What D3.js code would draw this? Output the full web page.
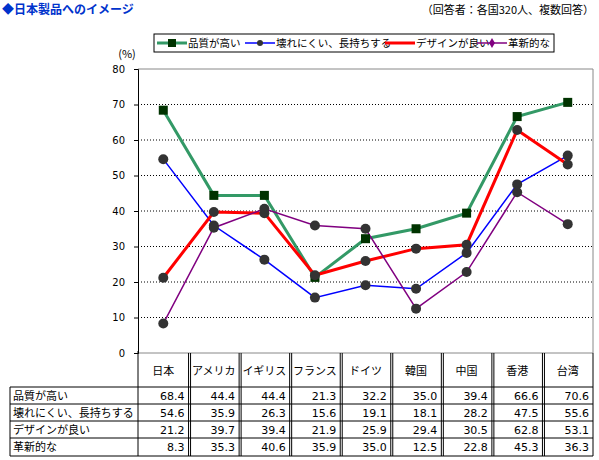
<!DOCTYPE html>
<html><head><meta charset="utf-8">
<script src="https://cdn.jsdelivr.net/npm/d3@7"></script>
<style>body{margin:0;background:#fff;font-family:"Noto Sans CJK JP",sans-serif;}</style>
</head><body><svg id="c" width="599" height="460"></svg>
<script>
const categories = ["日本", "アメリカ", "イギリス", "フランス", "ドイツ", "韓国", "中国", "香港", "台湾"];
const seriesNames = ["品質が高い", "壊れにくい、長持ちする", "デザインが良い", "革新的な"];
const quality = [68.4, 44.4, 44.4, 21.3, 32.2, 35.0, 39.4, 66.6, 70.6];
const durable = [54.6, 35.9, 26.3, 15.6, 19.1, 18.1, 28.2, 47.5, 55.6];
const design = [21.2, 39.7, 39.4, 21.9, 25.9, 29.4, 30.5, 62.8, 53.1];
const innovative = [8.3, 35.3, 40.6, 35.9, 35.0, 12.5, 22.8, 45.3, 36.3];
const yTicks = [0, 10, 20, 30, 40, 50, 60, 70, 80];

const series = [
  {name: seriesNames[0], values: quality, color: "#339966", marker: "square", mcol: "#003300", w: 3},
  {name: seriesNames[1], values: durable, color: "#0000ff", marker: "circle", mcol: "#333333", w: 1.5},
  {name: seriesNames[2], values: design, color: "#ff0000", marker: "circle", mcol: "#333333", w: 3},
  {name: seriesNames[3], values: innovative, color: "#800080", marker: "circle", mcol: "#333333", w: 1.5}
];

const svg = d3.select("#c");
const L = 138, R = 593, T = 69, B = 353;
const x = d3.scaleBand().domain(categories).range([L, R]);
const y = d3.scaleLinear().domain([0, 80]).range([B, T]);
const font = "Noto Sans CJK JP";

svg.append("text").attr("x", 2).attr("y", 14).attr("fill", "#0033cc").attr("font-weight", "bold")
  .attr("font-size", 12).attr("font-family", font).text("◆日本製品へのイメージ");
svg.append("text").attr("x", 594).attr("y", 14).attr("text-anchor", "end").attr("font-size", 11)
  .attr("font-family", font).text("（回答者：各国320人、複数回答）");

// grid
svg.append("g").selectAll("line").data(yTicks.filter(d => d > 0 && d < 80)).join("line")
  .attr("x1", L).attr("x2", R).attr("y1", d => y(d)).attr("y2", d => y(d))
  .attr("stroke", "#000").attr("stroke-dasharray", "1,2");
svg.append("line").attr("x1", L).attr("x2", R).attr("y1", T).attr("y2", T).attr("stroke", "#888");
svg.append("line").attr("x1", R).attr("x2", R).attr("y1", T).attr("y2", B).attr("stroke", "#888");
svg.append("line").attr("x1", L).attr("x2", R).attr("y1", B).attr("y2", B).attr("stroke", "#888");

const ya = svg.append("g").attr("transform", `translate(${L},0)`)
  .call(d3.axisLeft(y).tickValues(yTicks).tickSize(4).tickFormat(d3.format("d")));
ya.select(".domain").attr("stroke", "#000");
ya.selectAll("text").attr("font-size", 10).attr("font-family", "DejaVu Sans").attr("x", -13);
svg.append("text").attr("x", 127).attr("y", 58).attr("text-anchor", "middle").attr("font-size", 11)
  .attr("font-family", font).text("(%)");

// lines
const cx = c => x(c) + x.bandwidth() / 2;
series.forEach(s => {
  svg.append("path").datum(s.values)
    .attr("d", d3.line().x((d, i) => cx(categories[i])).y(d => y(d)))
    .attr("fill", "none").attr("stroke", s.color).attr("stroke-width", s.w);
});
series.forEach(s => {
  s.values.forEach((v, i) => {
    if (s.marker === "square") svg.append("rect").attr("x", cx(categories[i]) - 4.5).attr("y", y(v) - 4.5)
      .attr("width", 9).attr("height", 9).attr("fill", s.mcol);
    else svg.append("circle").attr("cx", cx(categories[i])).attr("cy", y(v)).attr("r", 5).attr("fill", s.mcol);
  });
});

// legend
const lg = svg.append("g");
lg.append("rect").attr("x", 154).attr("y", 34).attr("width", 400).attr("height", 18)
  .attr("fill", "#fff").attr("stroke", "#000");
const lx = [157, 245, 385, 477];
series.forEach((s, i) => {
  lg.append("line").attr("x1", lx[i]).attr("x2", lx[i] + 30).attr("y1", 43).attr("y2", 43)
    .attr("stroke", s.color).attr("stroke-width", s.w);
  if (i === 0) lg.append("rect").attr("x", lx[i] + 11).attr("y", 39).attr("width", 8).attr("height", 8).attr("fill", s.mcol);
  else if (i === 3) lg.append("path").attr("d", d3.symbol(d3.symbolDiamond, 30)()).attr("transform", `translate(${lx[i] + 15},43)`).attr("fill", s.color);
  else if (i === 1) lg.append("circle").attr("cx", lx[i] + 15).attr("cy", 43).attr("r", 3).attr("fill", s.mcol);
  lg.append("text").attr("x", lx[i] + 31).attr("y", 47).attr("font-size", 10.5).attr("font-family", font).text(s.name);
});

// table
const rowY = [387, 404, 421, 438, 456];
const tg = svg.append("g");
tg.append("line").attr("x1", L).attr("x2", L).attr("y1", B - 2).attr("y2", rowY[4]).attr("stroke", "#000");
categories.forEach((c, i) => {
  const xr = x(c) + x.bandwidth();
  tg.append("line").attr("x1", xr).attr("x2", xr).attr("y1", B).attr("y2", rowY[4]).attr("stroke", "#000");
  if (i < categories.length - 1) tg.append("line").attr("x1", xr + 2).attr("x2", xr + 2).attr("y1", B).attr("y2", rowY[4]).attr("stroke", "#000");
  tg.append("text").attr("x", cx(c)).attr("y", 375).attr("text-anchor", "middle").attr("font-size", 11)
    .attr("font-family", font).text(c);
});
rowY.forEach(yy => tg.append("line").attr("x1", 10).attr("x2", R).attr("y1", yy).attr("y2", yy).attr("stroke", "#000"));
tg.append("line").attr("x1", 10).attr("x2", 10).attr("y1", rowY[0]).attr("y2", rowY[4]).attr("stroke", "#000");
series.forEach((s, r) => {
  const ty = rowY[r] + 13;
  tg.append("text").attr("x", 13).attr("y", ty).attr("font-size", 11).attr("font-family", font).text(s.name);
  s.values.forEach((v, i) => {
    tg.append("text").attr("x", x(categories[i]) + x.bandwidth() - 4).attr("y", ty).attr("text-anchor", "end")
      .attr("font-size", 11).attr("font-family", "DejaVu Sans").text(v.toFixed(1));
  });
});
</script></body></html>
